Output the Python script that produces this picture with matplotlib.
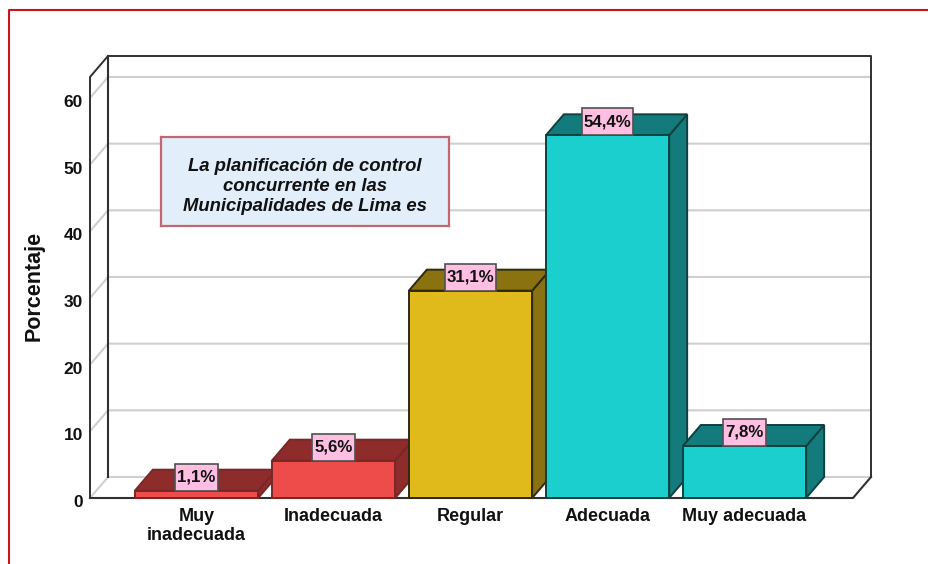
import matplotlib
matplotlib.use("Agg")
import matplotlib.pyplot as plt
from matplotlib.patches import Polygon, Rectangle
from matplotlib.lines import Line2D
from matplotlib.transforms import ScaledTranslation

categories = ["Muy\ninadecuada", "Inadecuada", "Regular", "Adecuada", "Muy adecuada"]
values = [1.1, 5.6, 31.1, 54.4, 7.8]
value_labels = ["1,1%", "5,6%", "31,1%", "54,4%", "7,8%"]
y_ticks = [0, 10, 20, 30, 40, 50, 60]
front_colors = ["#EE4B4B", "#EE4B4B", "#E0B91A", "#1BCFCF", "#1BCFCF"]
side_colors = ["#8E2C2C", "#8E2C2C", "#8A7210", "#137B7B", "#137B7B"]
edge_colors = ["#7A2626", "#7A2626", "#2E2A10", "#0E4040", "#0E4040"]

W, H = 929, 564
plt.rcParams["font.family"] = ["Liberation Sans", "DejaVu Sans"]
fig = plt.figure(figsize=(W / 100, H / 100), dpi=100, facecolor="white")

# axes frame = front floor/left edge of the 3D box (pixels)
L, R, T, B = 90, 853, 77, 498
ax = fig.add_axes([L / W, 1 - B / H, (R - L) / W, (B - T) / H])
px_x, px_y = 137.0, 66.67 / 10
ax.set_xlim((L - 196.5) / px_x, (R - 196.5) / px_x)
ax.set_ylim(0, (B - T) / px_y)
ax.patch.set_visible(False)
for s in ax.spines.values():
    s.set_visible(False)
dx, dy = 18 / px_x, 21 / px_y
x0, x1 = ax.get_xlim()
ytop = ax.get_ylim()[1]

def line(xs, ys, c, lw, z=1):
    ax.add_line(Line2D(xs, ys, color=c, lw=lw, zorder=z, clip_on=False, solid_capstyle="projecting"))

# walls and grid
grid = "#CFCFCF"
for t in y_ticks[1:]:
    line([x0, x0 + dx, x1 + dx], [t, t + dy, t + dy], grid, 1.5)
line([x0, x0 + dx, x1 + dx], [0, dy, dy], grid, 1.5)
line([x0 + dx, x0 + dx], [dy, ytop + dy], "#303030", 1.5, 2)
line([x0, x0, x0 + dx, x1 + dx, x1 + dx], [0, ytop, ytop + dy, ytop + dy, dy], "#303030", 1.4, 2)
line([x1 + dx, x1, x0], [dy, 0, 0], "#303030", 1.5, 2)

# bars
bw = 0.9
for i, v in enumerate(values):
    l, r = i - bw / 2, i + bw / 2
    z = 3 + i
    e = edge_colors[i]
    ax.add_patch(Polygon([(r, 0), (r + dx, dy), (r + dx, v + dy), (r, v)], fc=side_colors[i], ec=e, lw=1.4, zorder=z, clip_on=False))
    ax.add_patch(Polygon([(l, v), (l + dx, v + dy), (r + dx, v + dy), (r, v)], fc=side_colors[i], ec=e, lw=1.4, zorder=z, clip_on=False))
    ax.add_patch(Rectangle((l, 0), bw, v, fc=front_colors[i], ec=e, lw=1.4, zorder=z + 0.1, clip_on=False))

# value labels with boxes sitting on the bar's front-top edge
fig.canvas.draw()
rend = fig.canvas.get_renderer()
box_h = 27 / px_y
for i, (v, s) in enumerate(zip(values, value_labels)):
    t = ax.text(i, v + box_h / 2, s, ha="center", va="center", fontsize=12.2, fontweight="bold",
                color="#111111", zorder=21, clip_on=False)
    tw = t.get_window_extent(rend).width
    bwid = (tw + 4) / px_x
    ax.add_patch(Rectangle((i - bwid / 2, v), bwid, box_h, fc="#FFBFE3", ec="#505050", lw=1.2, zorder=20, clip_on=False))

# ticks
ax.set_yticks(y_ticks)
ax.set_yticklabels([str(t) for t in y_ticks], fontsize=12.5, fontweight="bold", color="#111111")
ax.tick_params(axis="y", length=0, pad=5)
for lab in ax.get_yticklabels():
    lab.set_transform(lab.get_transform() + ScaledTranslation(0, -3 / 100, fig.dpi_scale_trans))
ax.set_xticks(range(len(categories)))
ax.set_xticklabels(categories, fontsize=13, fontweight="bold", color="#111111", linespacing=1.2)
ax.tick_params(axis="x", length=0, pad=7)
fig.text(34 / W, 1 - 286 / H, "Porcentaje", rotation=90, ha="center", va="center", fontsize=15.5, fontweight="bold", color="#111111")

# annotation box
bx = fig.add_axes([161 / W, 1 - 226 / H, 288 / W, 89 / H])
bx.set_xticks([]); bx.set_yticks([])
bx.set_facecolor("#E2EFFB")
bx.set_zorder(30)
for s in bx.spines.values():
    s.set_color("#C4666F"); s.set_linewidth(1.6)
bx.text(0.5, 0.5 - 5 / 89, "La planificación de control\nconcurrente en las\nMunicipalidades de Lima es", transform=bx.transAxes,
        ha="center", va="center", fontsize=13.3, fontweight="bold", fontstyle="italic", color="#111111", linespacing=1.22)

# red page frame
fig.add_artist(Line2D([9 / W, 9 / W, 1], [0, 1 - 10 / H, 1 - 10 / H], color="#C8141C", lw=1.5, transform=fig.transFigure))

fig.savefig("out.png", dpi=100, facecolor="white")
